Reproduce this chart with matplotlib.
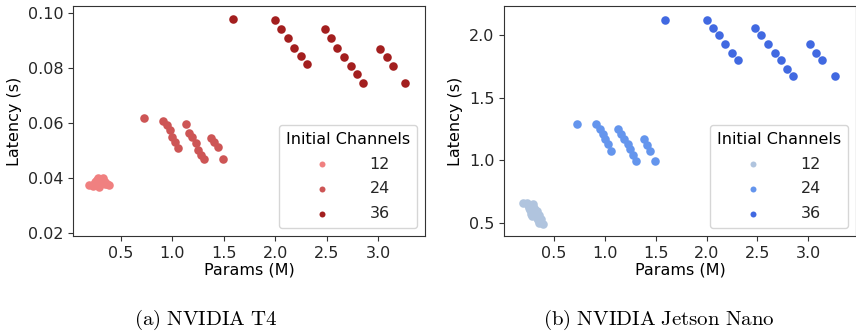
import matplotlib
matplotlib.use("Agg")
import matplotlib.pyplot as plt

# params (M) per architecture, same for both devices
params_12 = [0.19, 0.23, 0.24, 0.25, 0.26, 0.27, 0.28, 0.29, 0.30, 0.31, 0.32, 0.33, 0.34, 0.35, 0.33, 0.35, 0.37, 0.39]
params_24 = [0.73, 0.91, 0.95, 0.98, 1.00, 1.03, 1.06, 1.13, 1.16, 1.19, 1.23, 1.25, 1.28, 1.31, 1.38, 1.41, 1.44, 1.49]
params_36 = [1.59, 2.00, 2.06, 2.12, 2.18, 2.25, 2.31, 2.48, 2.54, 2.60, 2.67, 2.73, 2.79, 2.85, 3.02, 3.08, 3.14, 3.26]

# latency on NVIDIA T4 (s)
t4_12 = [0.0375, 0.0372, 0.0380, 0.0385, 0.0390, 0.0395, 0.0400, 0.0370, 0.0378, 0.0386, 0.0393, 0.0400, 0.0388, 0.0378, 0.0395, 0.0388, 0.0380, 0.0375]
t4_24 = [0.0618, 0.0609, 0.0594, 0.0576, 0.0549, 0.0533, 0.0509, 0.0596, 0.0566, 0.0549, 0.0527, 0.0503, 0.0485, 0.0469, 0.0545, 0.0533, 0.0515, 0.0469]
t4_36 = [0.0979, 0.0977, 0.0945, 0.0910, 0.0875, 0.0845, 0.0815, 0.0945, 0.0910, 0.0875, 0.0840, 0.0810, 0.0780, 0.0748, 0.0870, 0.0840, 0.0810, 0.0748]

# latency on NVIDIA Jetson Nano (s)
nano_12 = [0.66, 0.66, 0.64, 0.62, 0.60, 0.57, 0.55, 0.65, 0.62, 0.60, 0.57, 0.54, 0.52, 0.50, 0.59, 0.56, 0.53, 0.49]
nano_24 = [1.29, 1.29, 1.25, 1.21, 1.17, 1.13, 1.07, 1.25, 1.21, 1.17, 1.13, 1.09, 1.04, 0.99, 1.17, 1.12, 1.07, 0.99]
nano_36 = [2.12, 2.12, 2.06, 2.00, 1.93, 1.86, 1.80, 2.06, 2.00, 1.93, 1.86, 1.80, 1.73, 1.67, 1.93, 1.86, 1.80, 1.67]

channels = ["12", "24", "36"]
t4_colors = ["#f08080", "#cd5555", "#a31f1f"]
nano_colors = ["#b0c4de", "#6495ed", "#4169e1"]

plt.rcParams["font.family"] = "DejaVu Sans"
plt.rcParams["mathtext.fontset"] = "cm"

fig = plt.figure(figsize=(8.56, 3.35), dpi=100)
ax1 = fig.add_axes([0.0853, 0.2955, 0.4112, 0.6866])
ax2 = fig.add_axes([0.5888, 0.2955, 0.4112, 0.6866])

params = [params_12, params_24, params_36]
panels = [
    (ax1, [t4_12, t4_24, t4_36], t4_colors),
    (ax2, [nano_12, nano_24, nano_36], nano_colors),
]
for ax, lat, cols in panels:
    for p, l, c, name in zip(params, lat, cols, channels):
        ax.scatter(p, l, s=38, color=c, linewidths=0, label=name)
    ax.set_xlabel("Params (M)", fontsize=11.5, labelpad=1)
    ax.set_ylabel("Latency (s)", fontsize=11.5)
    ax.tick_params(labelsize=11.5, length=3.5, color="#333333", labelcolor="#262626")
    for sp in ax.spines.values():
        sp.set_color("#333333")
    ax.set_xticks([0.5, 1.0, 1.5, 2.0, 2.5, 3.0])
    leg = ax.legend(title="Initial Channels", loc="lower right", fontsize=11.5,
                    title_fontsize=11.5, markerscale=0.7, handletextpad=2.0,
                    borderpad=0.45, labelspacing=0.6)
    for t in leg.get_texts():
        t.set_color("#262626")

ax1.set_xlim(0.037, 3.453)
ax1.set_ylim(0.019, 0.1027)
ax1.set_yticks([0.02, 0.04, 0.06, 0.08, 0.10])
ax1.set_yticklabels(["0.02", "0.04", "0.06", "0.08", "0.10"])

ax2.set_xlim(0.008, 3.47)
ax2.set_ylim(0.394, 2.233)
ax2.set_yticks([0.5, 1.0, 1.5, 2.0])

fig.text(0.24, 0.03, r"$\mathrm{(a)\ NVIDIA\ T4}$", ha="center", fontsize=15)
fig.text(0.77, 0.03, r"$\mathrm{(b)\ NVIDIA\ Jetson\ Nano}$", ha="center", fontsize=15)

fig.savefig("out.png", dpi=100)
